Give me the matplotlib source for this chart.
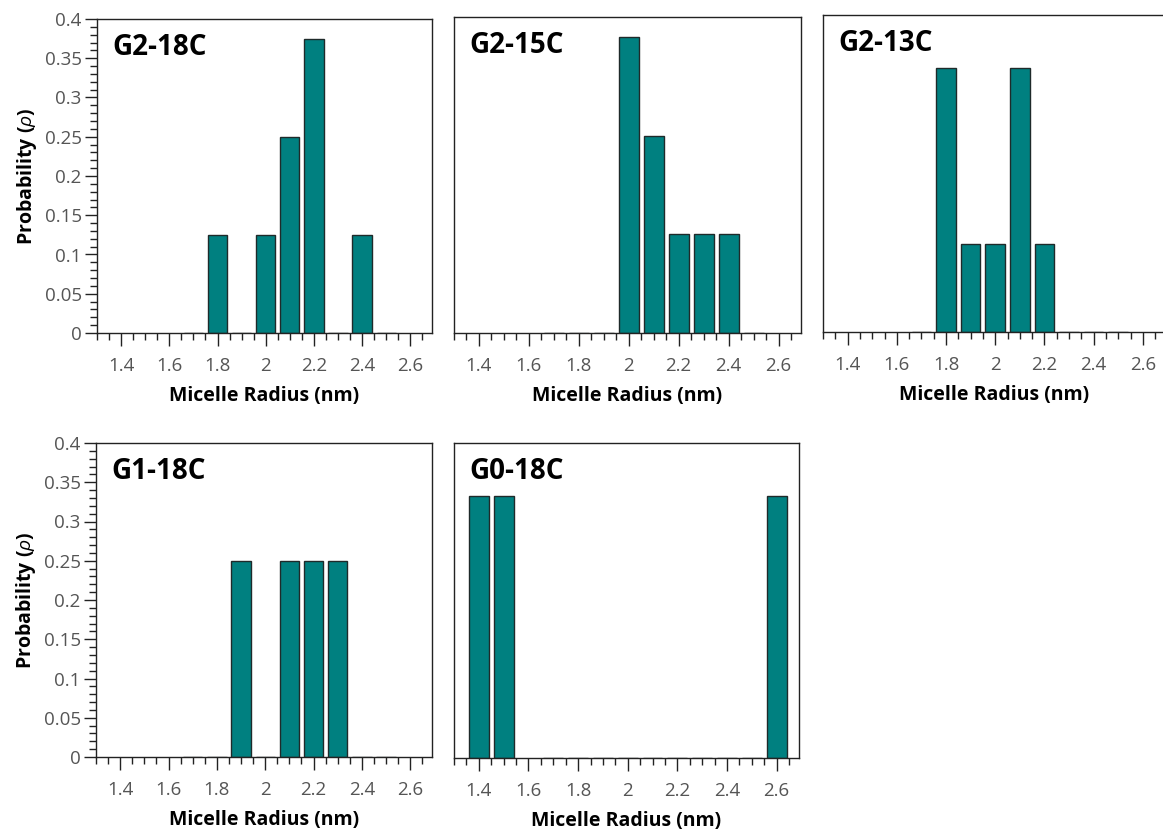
import numpy as np
import matplotlib
matplotlib.use("Agg")
import matplotlib.pyplot as plt
from matplotlib.ticker import MultipleLocator, FuncFormatter

plt.rcParams['font.family'] = ['Open Sans', 'DejaVu Sans']
plt.rcParams['mathtext.fontset'] = 'custom'
plt.rcParams['mathtext.it'] = 'Open Sans:italic'

nan = np.nan
radius = [1.4, 1.5, 1.6, 1.7, 1.8, 1.9, 2.0, 2.1, 2.2, 2.3, 2.4, 2.5, 2.6]
g2_18c = [nan, nan, nan, 0, 0.125, 0, 0.125, 0.25, 0.375, 0, 0.125, 0, nan]
g2_15c = [nan, nan, nan, 0, 0, 0, 0.375, 0.25, 0.125, 0.125, 0.125, 0, nan]
g2_13c = [nan, nan, nan, 0, 1/3, 1/9, 1/9, 1/3, 1/9, 0, 0, 0, nan]
g1_18c = [nan, nan, nan, 0, 0, 0.25, 0, 0.25, 0.25, 0.25, 0, 0, nan]
g0_18c = [1/3, 1/3, nan, 0, 0, 0, 0, 0, 0, 0, 0, 0, 1/3]

names = ["G2-18C", "G2-15C", "G2-13C", "G1-18C", "G0-18C"]
series = [g2_18c, g2_15c, g2_13c, g1_18c, g0_18c]

W, H = 1163, 830
# left, right, top, bottom in pixels
boxes = [(97, 432, 19, 333), (454, 801, 17, 333), (823, 1165, 15, 332),
         (96, 432, 443, 757), (454, 799, 443, 758)]
ylabels_on = [True, False, False, True, False]

fig = plt.figure(figsize=(W / 100, H / 100), dpi=100)

tick_col = '#555555'
for name, vals, (l, r, t, b), showy in zip(names, series, boxes, ylabels_on):
    ax = fig.add_axes([l / W, 1 - b / H, (r - l) / W, (b - t) / H])
    x = np.array(radius)
    y = np.array(vals, dtype=float)
    m = ~np.isnan(y)
    ax.bar(x[m], y[m], width=0.08, color='#008080', edgecolor='#1f2a2a', linewidth=1.0)
    ax.set_xlim(1.3, 2.69)
    ax.set_ylim(0, 0.4)
    for s in ax.spines.values():
        s.set_color('#222222')
        s.set_linewidth(1.0)
    ax.xaxis.set_major_locator(MultipleLocator(0.2))
    ax.xaxis.set_minor_locator(MultipleLocator(0.05))
    ax.xaxis.set_major_formatter(FuncFormatter(lambda v, p: f"{v:g}"))
    ax.tick_params(axis='x', which='major', direction='out', length=9, width=1,
                   color='#222222', labelsize=13.5, labelcolor=tick_col, pad=8)
    ax.tick_params(axis='x', which='minor', direction='out', length=5, width=1,
                   color='#222222')
    ax.tick_params(top=False, which='both')
    if showy:
        ax.yaxis.set_major_locator(MultipleLocator(0.05))
        ax.yaxis.set_minor_locator(MultipleLocator(0.01))
        ax.yaxis.set_major_formatter(FuncFormatter(lambda v, p: f"{v:g}"))
        ax.tick_params(axis='y', which='major', direction='out', length=9, width=1,
                       color='#222222', labelsize=13.5, labelcolor=tick_col, pad=2)
        ax.tick_params(axis='y', which='minor', direction='out', length=5, width=1,
                       color='#222222')
        ax.set_ylabel(r"Probability ($\rho$)", fontsize=14, fontweight='bold', labelpad=4)
    else:
        ax.set_yticks([])
        ax.yaxis.set_minor_locator(plt.NullLocator())
    ax.tick_params(right=False, which='both')
    ax.set_xlabel("Micelle Radius (nm)", fontsize=14, fontweight='bold', labelpad=8)
    ax.text(0.045, 0.91, name, transform=ax.transAxes, fontsize=20,
            fontweight='bold', va='center', ha='left', color='black')

fig.savefig("out.png", dpi=100)
